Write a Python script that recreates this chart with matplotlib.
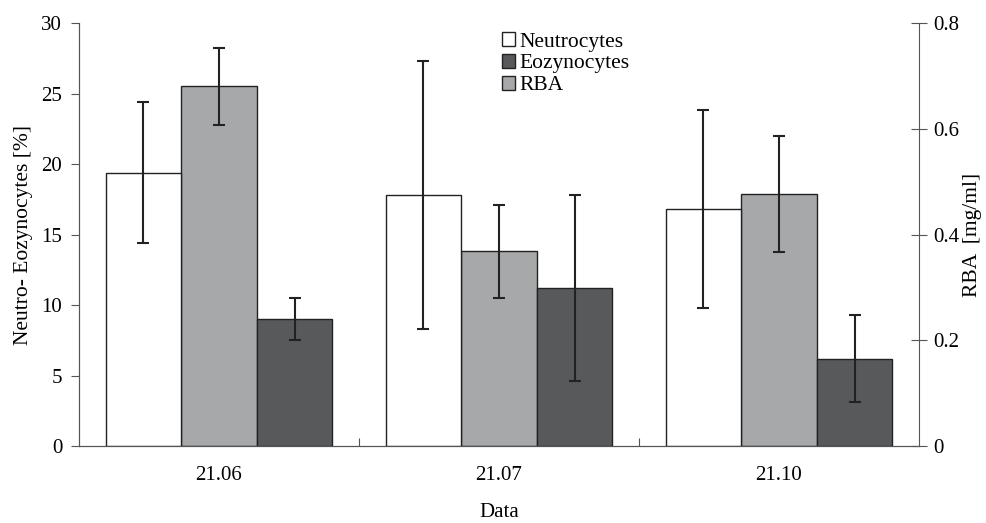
import matplotlib.pyplot as plt
import numpy as np

plt.rcParams['font.family'] = ['Liberation Serif', 'DejaVu Serif']

dates = ['21.06', '21.07', '21.10']
neutro = [19.4, 17.8, 16.8]
neutro_err = [5.0, 9.5, 7.0]
eozy = [9.0, 11.2, 6.2]
eozy_err = [1.5, 6.6, 3.1]
rba = [0.68, 0.368, 0.477]          # mg/ml
rba_err = [0.072, 0.088, 0.11]

x = np.arange(len(dates)) + 0.5
w = 0.27
edge = '#222222'
err_kw = dict(ecolor='#222222', elinewidth=1.5, capsize=4, capthick=1.5)

fig = plt.figure(figsize=(9.87, 5.23), dpi=100)
ax = fig.add_axes([0.080, 0.147, 0.851, 0.809])
ax2 = ax.twinx()

b1 = ax.bar(x - w, neutro, w, yerr=neutro_err, color='white', edgecolor=edge,
            linewidth=1, error_kw=err_kw, zorder=2)
b3 = ax2.bar(x, rba, w, yerr=rba_err, color='#a7a8aa', edgecolor=edge,
             linewidth=1, error_kw=err_kw, zorder=2)
b2 = ax.bar(x + w, eozy, w, yerr=eozy_err, color='#58595b', edgecolor=edge,
            linewidth=1, error_kw=err_kw, zorder=2)

ax.set_zorder(ax2.get_zorder() + 1)
ax.patch.set_visible(False)

ax.set_xlim(0, 3)
ax.set_ylim(0, 30)
ax2.set_ylim(0, 0.8)

ax.set_yticks([0, 5, 10, 15, 20, 25, 30])
ax2.set_yticks([0, 0.2, 0.4, 0.6, 0.8])
ax2.set_yticklabels(['0', '0.2', '0.4', '0.6', '0.8'])

ax.set_xticks([1, 2])
ax.set_xticklabels(['', ''])
ax.tick_params(axis='x', direction='in', length=6, color='#555555')
ax.set_xticks(x, minor=True)
ax.set_xticklabels(dates, minor=True)
ax.tick_params(axis='x', which='minor', length=0, pad=14, labelsize=15)

ax.tick_params(axis='y', direction='out', length=6, color='#555555', labelsize=15, pad=6)
ax2.tick_params(axis='y', direction='inout', length=12, color='#555555', labelsize=15, pad=4)

for a in (ax, ax2):
    a.spines['top'].set_visible(False)
    for s in a.spines.values():
        s.set_color('#555555')
ax.spines['right'].set_visible(False)

ax.set_ylabel('Neutro- Eozynocytes [%]', fontsize=15.5, labelpad=6)
ax2.set_ylabel('RBA  [mg/ml]', fontsize=15.5, labelpad=3)
ax.set_xlabel('Data', fontsize=15, labelpad=13)

ax.legend([b1, b2, b3], ['Neutrocytes', 'Eozynocytes', 'RBA'],
          loc='upper left', bbox_to_anchor=(0.48, 1.025), frameon=False,
          fontsize=15.5, handlelength=0.65, handleheight=0.65, handletextpad=0.2,
          labelspacing=0.1)

fig.savefig('out.png', dpi=100)
